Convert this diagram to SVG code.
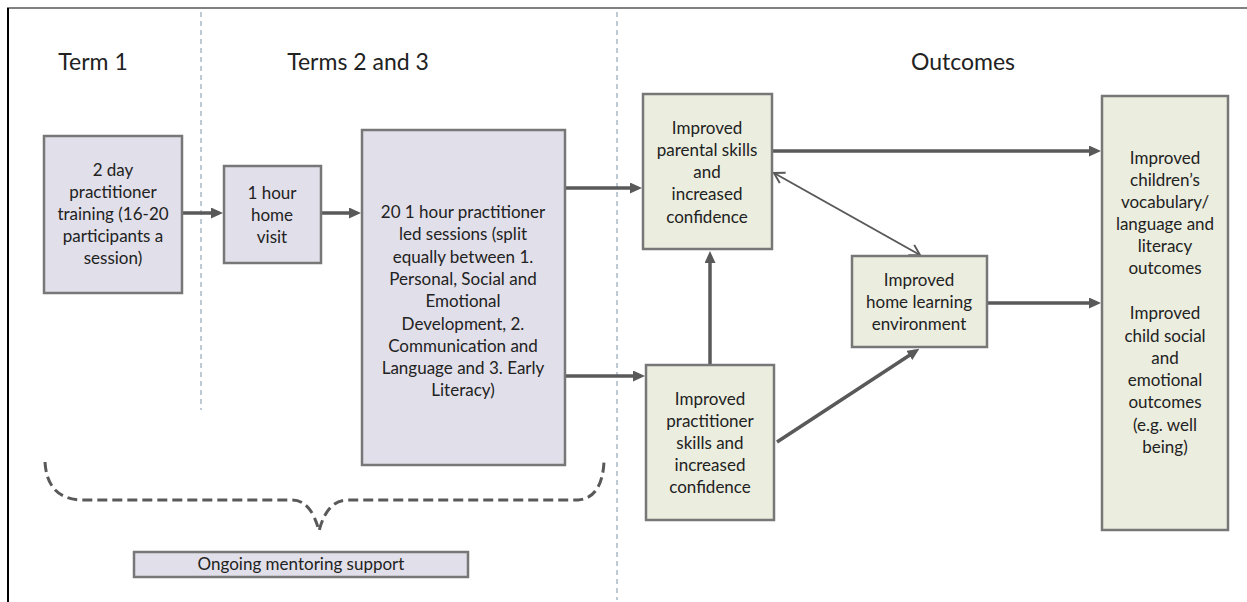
<svg xmlns="http://www.w3.org/2000/svg" width="1247" height="602" viewBox="0 0 1247 602">
<style>
.t{font-family:Lato,"Liberation Sans",sans-serif;font-size:17px;fill:#222;text-anchor:middle}
.h{font-family:Lato,"Liberation Sans",sans-serif;font-size:23px;fill:#222;text-anchor:middle}
.p{fill:#e1dfe9;stroke:#777;stroke-width:2.5}
.g{fill:#ebeddf;stroke:#777;stroke-width:2.5}
.a{stroke:#595959;stroke-width:3.5;fill:none}
.sep{stroke:#7f95aa;stroke-width:1;stroke-dasharray:5,4;fill:none}
</style>
<defs>
<marker id="ah" markerWidth="12" markerHeight="11" refX="8" refY="5.5" orient="auto" markerUnits="userSpaceOnUse">
<path d="M0,0 L12,5.5 L0,11 Z" fill="#595959"/>
</marker>
<marker id="oh" markerWidth="14" markerHeight="14" refX="12" refY="7" orient="auto-start-reverse" markerUnits="userSpaceOnUse">
<path d="M2,1 L12,7 L2,13" fill="none" stroke="#595959" stroke-width="2"/>
</marker>
</defs>
<rect width="1247" height="602" fill="#fff"/>
<line x1="7" y1="8" x2="1247" y2="8" stroke="#808080" stroke-width="2"/>
<line x1="8" y1="8" x2="8" y2="602" stroke="#000" stroke-width="2"/>
<line class="sep" x1="201" y1="12" x2="201" y2="410"/>
<line class="sep" x1="617" y1="12" x2="617" y2="600"/>
<text class="h" x="93" y="70">Term 1</text>
<text class="h" x="358" y="70">Terms 2 and 3</text>
<text class="h" x="963" y="70">Outcomes</text>

<g id="connectors">
<line class="a" x1="183" y1="213" x2="219" y2="213" marker-end="url(#ah)"/>
<line class="a" x1="322" y1="213" x2="357" y2="213" marker-end="url(#ah)"/>
<line class="a" x1="566" y1="188" x2="638" y2="188" marker-end="url(#ah)"/>
<line class="a" x1="566" y1="376" x2="641" y2="376" marker-end="url(#ah)"/>
<line class="a" x1="772" y1="151" x2="1097" y2="151" marker-end="url(#ah)"/>
<line class="a" x1="988" y1="303" x2="1097" y2="303" marker-end="url(#ah)"/>
<line class="a" x1="710" y1="364" x2="710" y2="255" marker-end="url(#ah)"/>
<line class="a" x1="777" y1="442" x2="916" y2="351" marker-end="url(#ah)"/>
<line x1="774" y1="173" x2="920" y2="255" stroke="#595959" stroke-width="2" marker-start="url(#oh)" marker-end="url(#oh)"/>
<path d="M45,462 Q47,499 82,500 L292,500 Q311,500 319,531 Q327,500 348,500 L578,500 Q602,498 604,462" fill="none" stroke="#595959" stroke-width="3" stroke-dasharray="10,5"/>
</g>

<g id="n-training">
<rect class="p" x="44" y="136" width="138" height="157"/>
<text class="t" x="113" y="176">2 day</text>
<text class="t" x="113" y="198">practitioner</text>
<text class="t" x="113" y="220">training (16-20</text>
<text class="t" x="113" y="242">participants a</text>
<text class="t" x="113" y="264">session)</text>
</g>
<g id="n-visit">
<rect class="p" x="224" y="166" width="97" height="97"/>
<text class="t" x="272" y="199">1 hour</text>
<text class="t" x="272" y="221">home</text>
<text class="t" x="272" y="243">visit</text>
</g>
<g id="n-sessions">
<rect class="p" x="362" y="130" width="203" height="335"/>
<text class="t" x="463" y="218">20 1 hour practitioner</text>
<text class="t" x="463" y="240">led sessions (split</text>
<text class="t" x="463" y="263">equally between 1.</text>
<text class="t" x="463" y="285">Personal, Social and</text>
<text class="t" x="463" y="307">Emotional</text>
<text class="t" x="463" y="330">Development, 2.</text>
<text class="t" x="463" y="352">Communication and</text>
<text class="t" x="463" y="374">Language and 3. Early</text>
<text class="t" x="463" y="396">Literacy)</text>
</g>
<g id="n-parental">
<rect class="g" x="643" y="94" width="129" height="155"/>
<text class="t" x="707" y="134">Improved</text>
<text class="t" x="707" y="156">parental skills</text>
<text class="t" x="707" y="178">and</text>
<text class="t" x="707" y="200">increased</text>
<text class="t" x="707" y="223">confidence</text>
</g>
<g id="n-practitioner">
<rect class="g" x="646" y="365" width="128" height="155"/>
<text class="t" x="710" y="405">Improved</text>
<text class="t" x="710" y="427">practitioner</text>
<text class="t" x="710" y="449">skills and</text>
<text class="t" x="710" y="471">increased</text>
<text class="t" x="710" y="493">confidence</text>
</g>
<g id="n-home">
<rect class="g" x="852" y="256" width="135" height="91"/>
<text class="t" x="919" y="286">Improved</text>
<text class="t" x="919" y="308">home learning</text>
<text class="t" x="919" y="330">environment</text>
</g>
<g id="n-outcomes">
<rect class="g" x="1102" y="96" width="126" height="434"/>
<text class="t" x="1165" y="164">Improved</text>
<text class="t" x="1165" y="186">children’s</text>
<text class="t" x="1165" y="208">vocabulary/</text>
<text class="t" x="1165" y="230">language and</text>
<text class="t" x="1165" y="252">literacy</text>
<text class="t" x="1165" y="274">outcomes</text>
<text class="t" x="1165" y="319">Improved</text>
<text class="t" x="1165" y="342">child social</text>
<text class="t" x="1165" y="364">and</text>
<text class="t" x="1165" y="386">emotional</text>
<text class="t" x="1165" y="408">outcomes</text>
<text class="t" x="1165" y="431">(e.g. well</text>
<text class="t" x="1165" y="453">being)</text>
</g>
<g id="n-mentoring">
<rect class="p" x="134" y="552" width="334" height="25"/>
<text class="t" x="301" y="570">Ongoing mentoring support</text>
</g>
</svg>
